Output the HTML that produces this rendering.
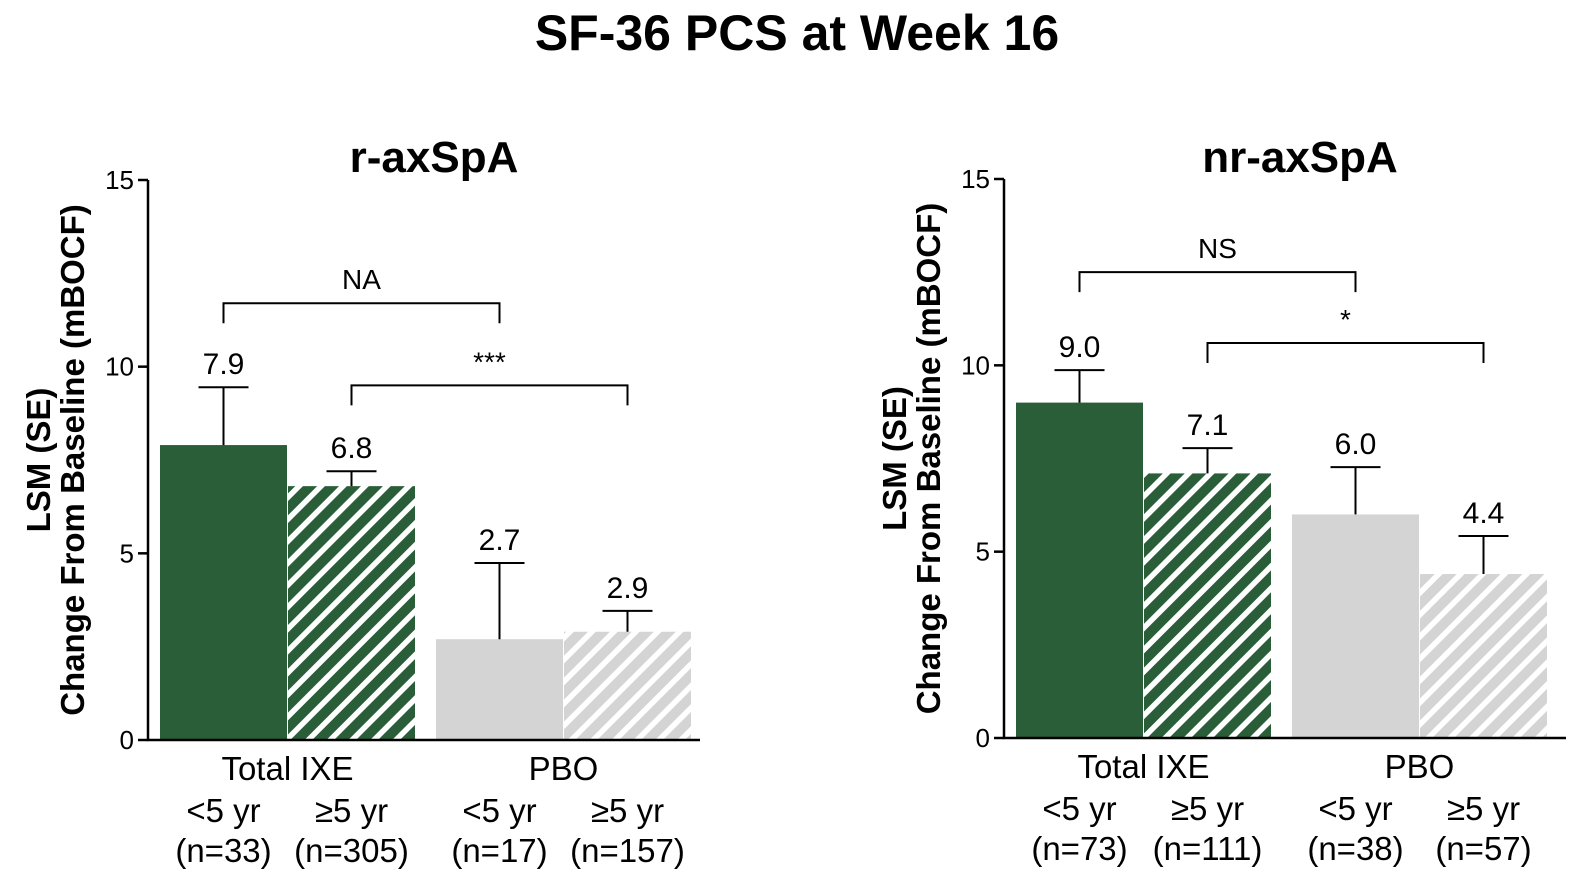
<!DOCTYPE html>
<html><head><meta charset="utf-8"><style>
html,body{margin:0;padding:0;background:#fff;}
svg{display:block;font-family:"Liberation Sans",Arial,sans-serif;}
</style></head><body>
<svg id="c" width="1594" height="889" viewBox="0 0 1594 889">
<defs>
<pattern id="hg" patternUnits="userSpaceOnUse" width="15.5" height="15.5" patternTransform="rotate(45)">
<rect width="15.5" height="15.5" fill="#fff"/><rect width="10" height="15.5" fill="#2a5e38"/></pattern>
<pattern id="hp" patternUnits="userSpaceOnUse" width="15.5" height="15.5" patternTransform="rotate(45)">
<rect width="15.5" height="15.5" fill="#fff"/><rect width="10" height="15.5" fill="#d4d4d4"/></pattern>
</defs>
<text x="797" y="50" text-anchor="middle" font-size="50" font-weight="bold">SF-36 PCS at Week 16</text>
</svg>
<script>
const panelTitles = ["r-axSpA", "nr-axSpA"];
const groupLabels = ["Total IXE", "PBO"];
const subLabels = ["<5 yr", "≥5 yr", "<5 yr", "≥5 yr"];
const nLabelsR = ["(n=33)", "(n=305)", "(n=17)", "(n=157)"];
const nLabelsNR = ["(n=73)", "(n=111)", "(n=38)", "(n=57)"];
const valuesR = [7.9, 6.8, 2.7, 2.9];
const valuesNR = [9.0, 7.1, 6.0, 4.4];
const seR = [1.55, 0.4, 2.04, 0.56];
const seNR = [0.87, 0.68, 1.27, 1.02];
const yTicks = [0, 5, 10, 15];
const sigR = [{from:0,to:2,level:11.7,label:"NA"},{from:1,to:3,level:9.5,label:"***"}];
const sigNR = [{from:0,to:2,level:12.5,label:"NS"},{from:1,to:3,level:10.6,label:"*"}];

const svg = document.getElementById('c');
const NS = 'http://www.w3.org/2000/svg';
function mk(tag, attrs, parent){const e=document.createElementNS(NS,tag);for(const k in attrs)e.setAttribute(k,attrs[k]);(parent||svg).appendChild(e);return e;}
const fills = ['#2a5e38','url(#hg)','#d4d4d4','url(#hp)'];

function panel(p){
  const g = mk('g',{});
  
  
  const y = v => p.y0 - (p.y0 - p.y15) * v / 15;
  const barX = i => p.x0 + 12 + i*128 + (i>=2 ? 20 : 0);
  const bw = 127;
  const t = mk('text',{x:(p.x0+p.xEnd)/2+p.titleDx,y:172,'text-anchor':'middle','font-size':44,'font-weight':'bold'},g);
  t.textContent = p.title;
  
  
  p.values.forEach((v,i)=>{
    const x = barX(i);
    const r = mk('rect',{x:x,y:y(v),width:bw,height:p.y0-y(v),fill:fills[i]},g);
    
    
    const cx = x + bw/2, top = y(v + p.se[i]);
    const eb = mk('path',{d:`M${cx} ${y(v)}V${top}M${cx-25} ${top}H${cx+25}`,stroke:'#000','stroke-width':2,fill:'none'},g);
    
    
    const lt = mk('text',{x:cx,y:top-13,'text-anchor':'middle','font-size':30},g);
    lt.textContent = v.toFixed(1);
    
    
    const sl = mk('text',{x:cx,y:p.y0+82,'text-anchor':'middle','font-size':33},g);
    sl.textContent = subLabels[i];
    
    
    const nl = mk('text',{x:cx,y:p.y0+122,'text-anchor':'middle','font-size':33},g);
    nl.textContent = p.n[i];
    
    
  });
  groupLabels.forEach((gl,j)=>{
    const cx = (barX(2*j) + barX(2*j+1) + bw)/2;
    const tt = mk('text',{x:cx,y:p.y0+40,'text-anchor':'middle','font-size':33},g);
    tt.textContent = gl;
    
    
  });
  const ax = mk('path',{d:`M${p.x0} ${p.y15}V${p.y0}H${p.xEnd}`,stroke:'#000','stroke-width':2.5,fill:'none'},g);
  
  
  yTicks.forEach(v=>{
    mk('line',{x1:p.x0-10,x2:p.x0,y1:y(v),y2:y(v),stroke:'#000','stroke-width':2.5},g);
    const tl = mk('text',{x:p.x0-14,y:y(v)+9,'text-anchor':'end','font-size':26},g);
    tl.textContent = v;
    
    
  });
  const yt = mk('text',{transform:`translate(${p.x0-98},${(p.y0+p.y15)/2}) rotate(-90)`,'text-anchor':'middle','font-size':33,'font-weight':'bold'},g);
  
  
  const s1 = mk('tspan',{x:0,dy:0},yt); s1.textContent='LSM (SE)';
  const s2 = mk('tspan',{x:0,dy:34},yt); s2.textContent='Change From Baseline (mBOCF)';
  p.sig.forEach(s=>{
    const xa = barX(s.from)+bw/2, xb = barX(s.to)+bw/2;
    const ly = y(s.level);
    const br = mk('path',{d:`M${xa} ${ly+20}V${ly}H${xb}V${ly+20}`,stroke:'#000','stroke-width':2,fill:'none'},g);
    
    
    const bt = mk('text',{x:(xa+xb)/2,y:ly-14,'text-anchor':'middle','font-size':28},g);
    bt.textContent = s.label;
    
    
  });
}
panel({name:'panel-r-axspa',title:panelTitles[0],titleDx:10,x0:148,xEnd:700,y0:740,y15:180,values:valuesR,se:seR,n:nLabelsR,sig:sigR});
panel({name:'panel-nr-axspa',title:panelTitles[1],titleDx:15,x0:1004,xEnd:1566,y0:738,y15:179,values:valuesNR,se:seNR,n:nLabelsNR,sig:sigNR});
</script>
</body></html>
